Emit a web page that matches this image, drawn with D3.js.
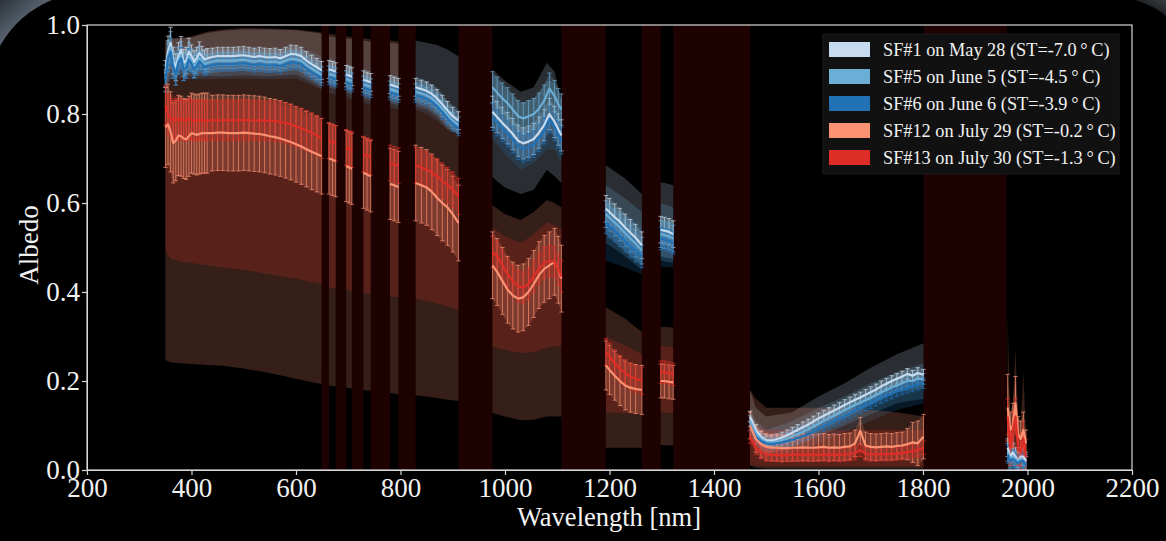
<!DOCTYPE html>
<html><head><meta charset="utf-8">
<script src="https://cdn.jsdelivr.net/npm/d3@7"></script>
<style>html,body{margin:0;padding:0;background:#000;}svg{display:block}</style>
</head><body>
<svg id="chart" width="1166" height="541"></svg>
<script>
// ---------------- DATA ----------------
const seriesNames = [
  "SF#1 on May 28 (ST=-7.0\u2009\u00b0\u2009C)",
  "SF#5 on June 5 (ST=-4.5\u2009\u00b0\u2009C)",
  "SF#6 on June 6 (ST=-3.9\u2009\u00b0\u2009C)",
  "SF#12 on July 29 (ST=-0.2\u2009\u00b0\u2009C)",
  "SF#13 on July 30 (ST=-1.3\u2009\u00b0\u2009C)"
];
const seriesColors = ["#c6dbef", "#6baed6", "#2171b5", "#fc9272", "#de2d26"];

const xTicks = [200, 400, 600, 800, 1000, 1200, 1400, 1600, 1800, 2000, 2200];
const yTicks = [0.0, 0.2, 0.4, 0.6, 0.8, 1.0];

// masked (absorption) wavelength bands, nm
const gapBands = [[649,663],[676,696],[707,729],[743,780],[796,829],[911,976],[1108,1193],[1262,1298],[1322,1469],[1801,1960]];

// wavelengths of the mean spectra / error bars (nm)
const wavelengths = [
  350,355,360,365,370,375,380,385,390,395,400,405,410,415,420,425,430,
  440,450,460,470,480,490,500,510,520,530,540,550,560,570,580,590,600,610,620,630,640,649,
  663,670,676,696,702,707,729,736,743,780,788,796,
  829,840,850,860,870,880,890,900,911,
  976,985,995,1005,1015,1025,1035,1045,1055,1065,1075,1085,1095,1102,1108,
  1193,1200,1210,1220,1230,1240,1250,1262,
  1298,1305,1314,1322,
  1469,1480,1490,1500,1510,1520,1530,1540,1550,1560,1570,1580,1590,1600,1610,1620,1630,1640,1650,1660,1670,1680,1690,1700,1710,1720,1730,1740,1750,1760,1770,1780,1790,1801,
  1962,1967,1972,1977,1982,1987,1992,1997
];

const sf1Mean = [
  0.89,0.94,0.96,0.92,0.905,0.93,0.944,0.915,0.92,0.94,0.93,0.917,0.925,0.937,0.93,0.922,0.925,
  0.928,0.93,0.93,0.93,0.93,0.931,0.932,0.93,0.928,0.93,0.928,0.927,0.928,0.925,0.93,0.935,0.934,0.93,0.92,0.912,0.905,0.898,
  0.9,0.898,0.895,0.889,0.886,0.884,0.877,0.874,0.871,0.866,0.863,0.86,
  0.86,0.856,0.852,0.845,0.835,0.822,0.808,0.795,0.785,
  0.805,0.793,0.78,0.768,0.755,0.74,0.734,0.738,0.744,0.758,0.775,0.8,0.782,0.765,0.752,
  0.587,0.58,0.568,0.558,0.545,0.533,0.522,0.505,
  0.54,0.538,0.535,0.53,
  0.12,0.09,0.075,0.067,0.066,0.069,0.073,0.078,0.084,0.09,0.096,0.102,0.109,0.116,0.122,0.128,0.134,0.14,0.146,0.152,0.158,0.163,0.169,0.175,0.181,0.188,0.194,0.2,0.205,0.21,0.216,0.212,0.218,0.214,
  0.05,0.03,0.04,0.03,0.02,0.03,0.03,0.02
];
const sf5Mean = [
  0.88,0.93,0.95,0.91,0.895,0.92,0.933,0.905,0.91,0.93,0.92,0.907,0.915,0.926,0.92,0.912,0.915,
  0.918,0.92,0.92,0.92,0.92,0.921,0.922,0.92,0.918,0.92,0.918,0.917,0.918,0.915,0.92,0.924,0.923,0.92,0.91,0.902,0.895,0.888,
  0.89,0.888,0.885,0.879,0.876,0.874,0.867,0.864,0.861,0.856,0.853,0.85,
  0.85,0.846,0.842,0.835,0.825,0.812,0.798,0.785,0.775,
  0.86,0.848,0.835,0.824,0.81,0.795,0.79,0.795,0.8,0.812,0.83,0.857,0.84,0.822,0.81,
  0.575,0.567,0.556,0.545,0.532,0.52,0.509,0.493,
  0.53,0.528,0.525,0.52,
  0.11,0.082,0.07,0.063,0.062,0.064,0.067,0.071,0.076,0.081,0.086,0.091,0.097,0.104,0.11,0.116,0.122,0.128,0.134,0.14,0.146,0.151,0.157,0.162,0.168,0.174,0.18,0.186,0.19,0.195,0.2,0.2,0.205,0.205,
  0.04,0.025,0.03,0.025,0.02,0.025,0.02,0.015
];
const sf6Mean = [
  0.875,0.925,0.94,0.905,0.89,0.915,0.925,0.9,0.905,0.922,0.913,0.9,0.908,0.918,0.912,0.905,0.907,
  0.91,0.912,0.912,0.912,0.912,0.913,0.914,0.912,0.91,0.912,0.91,0.909,0.91,0.907,0.912,0.916,0.915,0.912,0.902,0.894,0.887,0.88,
  0.882,0.88,0.877,0.871,0.868,0.866,0.859,0.856,0.853,0.848,0.845,0.842,
  0.842,0.838,0.834,0.827,0.817,0.804,0.79,0.777,0.767,
  0.793,0.781,0.768,0.756,0.743,0.728,0.722,0.726,0.732,0.746,0.763,0.788,0.77,0.753,0.74,
  0.557,0.548,0.538,0.527,0.515,0.503,0.493,0.48,
  0.52,0.518,0.515,0.51,
  0.1,0.075,0.065,0.06,0.058,0.06,0.062,0.065,0.068,0.072,0.076,0.08,0.086,0.092,0.098,0.104,0.11,0.115,0.121,0.127,0.133,0.139,0.145,0.15,0.156,0.162,0.167,0.172,0.177,0.181,0.185,0.188,0.192,0.195,
  0.035,0.02,0.025,0.02,0.015,0.02,0.02,0.01
];
const sf12Mean = [
  0.77,0.777,0.76,0.735,0.74,0.752,0.75,0.745,0.743,0.75,0.757,0.755,0.753,0.755,0.757,0.757,0.757,
  0.757,0.758,0.758,0.757,0.757,0.757,0.758,0.757,0.756,0.755,0.753,0.75,0.748,0.745,0.741,0.737,0.732,0.727,0.721,0.715,0.71,0.705,
  0.7,0.697,0.694,0.683,0.68,0.677,0.668,0.664,0.66,0.643,0.64,0.636,
  0.645,0.64,0.635,0.625,0.612,0.6,0.59,0.575,0.555,
  0.46,0.445,0.425,0.405,0.392,0.385,0.388,0.4,0.418,0.438,0.452,0.46,0.468,0.45,0.43,
  0.235,0.225,0.212,0.2,0.19,0.185,0.182,0.18,
  0.2,0.2,0.198,0.197,
  0.1,0.07,0.058,0.052,0.05,0.05,0.049,0.049,0.05,0.05,0.051,0.05,0.05,0.051,0.052,0.05,0.051,0.05,0.052,0.053,0.06,0.088,0.055,0.052,0.051,0.052,0.053,0.052,0.054,0.055,0.058,0.062,0.06,0.075,
  0.14,0.09,0.1,0.15,0.08,0.07,0.09,0.06
];
const sf13Mean = [
  0.82,0.8,0.79,0.785,0.79,0.785,0.79,0.785,0.785,0.79,0.787,0.785,0.785,0.787,0.786,0.785,0.785,
  0.786,0.786,0.786,0.786,0.786,0.786,0.787,0.786,0.786,0.785,0.785,0.785,0.784,0.782,0.78,0.777,0.772,0.768,0.763,0.758,0.752,0.745,
  0.74,0.737,0.734,0.725,0.722,0.72,0.71,0.706,0.703,0.69,0.687,0.684,
  0.685,0.68,0.675,0.668,0.66,0.65,0.64,0.63,0.615,
  0.49,0.48,0.46,0.44,0.425,0.413,0.41,0.418,0.435,0.452,0.465,0.47,0.468,0.45,0.435,
  0.265,0.255,0.24,0.228,0.218,0.21,0.205,0.2,
  0.22,0.22,0.218,0.215,
  0.075,0.05,0.04,0.035,0.034,0.034,0.033,0.034,0.034,0.035,0.034,0.034,0.035,0.034,0.035,0.034,0.035,0.034,0.035,0.036,0.038,0.045,0.036,0.035,0.035,0.036,0.035,0.036,0.037,0.038,0.04,0.042,0.045,0.05,
  0.12,0.05,0.09,0.12,0.05,0.04,0.07,0.03
];

// error bar half-widths
const sf1Err = [
  0.03,0.035,0.035,0.03,0.03,0.03,0.03,0.03,0.03,0.03,0.025,0.025,0.025,0.025,0.022,0.022,0.022,
  0.02,0.02,0.02,0.02,0.02,0.02,0.02,0.02,0.02,0.02,0.02,0.02,0.02,0.02,0.02,0.02,0.02,0.02,0.02,0.02,0.02,0.02,
  0.02,0.02,0.02,0.02,0.02,0.02,0.02,0.02,0.02,0.02,0.02,0.02,
  0.02,0.02,0.02,0.02,0.02,0.02,0.02,0.02,0.02,
  0.035,0.035,0.035,0.035,0.035,0.035,0.035,0.035,0.035,0.035,0.035,0.035,0.035,0.035,0.035,
  0.03,0.03,0.03,0.03,0.03,0.03,0.03,0.03,
  0.03,0.03,0.03,0.03,
  0.012,0.012,0.012,0.012,0.012,0.012,0.012,0.012,0.012,0.012,0.012,0.012,0.012,0.012,0.012,0.012,0.012,0.012,0.012,0.012,0.012,0.012,0.012,0.012,0.012,0.012,0.012,0.012,0.012,0.012,0.012,0.012,0.012,0.012,
  0.02,0.02,0.02,0.02,0.02,0.02,0.02,0.02
];
const sf5Err = [
  0.03,0.035,0.035,0.03,0.03,0.03,0.03,0.03,0.03,0.03,0.025,0.025,0.025,0.025,0.02,0.02,0.02,
  0.018,0.018,0.018,0.018,0.018,0.018,0.018,0.018,0.018,0.018,0.018,0.018,0.018,0.018,0.018,0.018,0.018,0.018,0.018,0.018,0.018,0.018,
  0.018,0.018,0.018,0.018,0.018,0.018,0.018,0.018,0.018,0.018,0.018,0.018,
  0.018,0.018,0.018,0.018,0.018,0.018,0.018,0.018,0.018,
  0.035,0.035,0.035,0.035,0.035,0.035,0.035,0.035,0.035,0.035,0.035,0.035,0.035,0.035,0.035,
  0.03,0.03,0.03,0.03,0.03,0.03,0.03,0.03,
  0.03,0.03,0.03,0.03,
  0.012,0.012,0.012,0.012,0.012,0.012,0.012,0.012,0.012,0.012,0.012,0.012,0.012,0.012,0.012,0.012,0.012,0.012,0.012,0.012,0.012,0.012,0.012,0.012,0.012,0.012,0.012,0.012,0.012,0.012,0.012,0.012,0.012,0.012,
  0.02,0.02,0.02,0.02,0.02,0.02,0.02,0.02
];
const sf6Err = [
  0.025,0.03,0.03,0.025,0.025,0.025,0.025,0.025,0.025,0.025,0.02,0.02,0.02,0.02,0.018,0.018,0.018,
  0.016,0.016,0.016,0.016,0.016,0.016,0.016,0.016,0.016,0.016,0.016,0.016,0.016,0.016,0.016,0.016,0.016,0.016,0.016,0.016,0.016,0.016,
  0.016,0.016,0.016,0.016,0.016,0.016,0.016,0.016,0.016,0.016,0.016,0.016,
  0.016,0.016,0.016,0.016,0.016,0.016,0.016,0.016,0.016,
  0.03,0.03,0.03,0.03,0.03,0.03,0.03,0.03,0.03,0.03,0.03,0.03,0.03,0.03,0.03,
  0.025,0.025,0.025,0.025,0.025,0.025,0.025,0.025,
  0.025,0.025,0.025,0.025,
  0.012,0.012,0.012,0.012,0.012,0.012,0.012,0.012,0.012,0.012,0.012,0.012,0.012,0.012,0.012,0.012,0.012,0.012,0.012,0.012,0.012,0.012,0.012,0.012,0.012,0.012,0.012,0.012,0.012,0.012,0.012,0.012,0.012,0.012,
  0.02,0.02,0.02,0.02,0.02,0.02,0.02,0.02
];
const sf12Err = [
  0.09,0.09,0.09,0.09,0.09,0.09,0.09,0.09,0.09,0.09,0.09,0.09,0.09,0.09,0.09,0.09,0.09,
  0.085,0.085,0.085,0.085,0.085,0.085,0.085,0.085,0.085,0.085,0.085,0.085,0.085,0.085,0.085,0.085,0.085,0.085,0.085,0.085,0.085,0.085,
  0.08,0.08,0.08,0.08,0.08,0.08,0.08,0.08,0.08,0.08,0.08,0.08,
  0.085,0.085,0.085,0.085,0.085,0.085,0.085,0.085,0.085,
  0.075,0.075,0.075,0.075,0.075,0.075,0.075,0.075,0.075,0.075,0.075,0.075,0.075,0.075,0.075,
  0.055,0.055,0.055,0.055,0.055,0.055,0.055,0.055,
  0.038,0.038,0.038,0.038,
  0.03,0.03,0.03,0.03,0.03,0.03,0.03,0.03,0.03,0.03,0.03,0.03,0.03,0.03,0.03,0.03,0.03,0.03,0.03,0.03,0.03,0.03,0.03,0.03,0.03,0.03,0.03,0.03,0.03,0.03,0.035,0.045,0.05,0.05,
  0.075,0.04,0.05,0.06,0.04,0.04,0.04,0.03
];
const sf13Err = [
  0.045,0.045,0.045,0.045,0.045,0.045,0.045,0.045,0.045,0.045,0.045,0.045,0.045,0.045,0.045,0.045,0.045,
  0.045,0.045,0.045,0.045,0.045,0.045,0.045,0.045,0.045,0.045,0.045,0.045,0.045,0.045,0.045,0.045,0.045,0.045,0.045,0.045,0.045,0.045,
  0.04,0.04,0.04,0.04,0.04,0.04,0.04,0.04,0.04,0.04,0.04,0.04,
  0.04,0.04,0.04,0.04,0.04,0.04,0.04,0.04,0.04,
  0.035,0.035,0.035,0.035,0.035,0.035,0.035,0.035,0.035,0.035,0.035,0.035,0.035,0.035,0.035,
  0.03,0.03,0.03,0.03,0.03,0.03,0.03,0.03,
  0.025,0.025,0.025,0.025,
  0.015,0.015,0.015,0.015,0.015,0.015,0.015,0.015,0.015,0.015,0.015,0.015,0.015,0.015,0.015,0.015,0.015,0.015,0.015,0.015,0.015,0.015,0.015,0.015,0.015,0.015,0.015,0.015,0.015,0.015,0.015,0.015,0.015,0.015,
  0.04,0.04,0.04,0.04,0.04,0.04,0.04,0.04
];

// wavelengths of the spread (shaded) envelopes
const bandWavelengths = [
  350,360,380,400,430,460,500,550,600,640,649,
  663,676,696,707,729,743,780,796,
  829,850,870,890,911,
  976,1000,1030,1055,1080,1095,1108,
  1193,1230,1262,
  1298,1322,
  1469,1480,1500,1550,1600,1650,1700,1750,1801,
  1962,1967,1972,1977,1982,1987,1992,1997
];
const sf1Low = [
  0.855,0.9,0.905,0.895,0.89,0.895,0.897,0.892,0.899,0.87,0.863,
  0.865,0.86,0.854,0.849,0.842,0.836,0.831,0.825,
  0.825,0.817,0.8,0.773,0.755,
  0.658,0.635,0.62,0.63,0.674,0.66,0.645,
  0.53,0.49,0.46,
  0.48,0.475,
  0.09,0.06,0.037,0.054,0.086,0.116,0.145,0.175,0.184,
  0.03,0.01,0.02,0.01,0.0,0.01,0.01,0.0
];
const sf1High = [
  0.962,0.968,0.97,0.972,0.982,0.987,0.99,0.99,0.988,0.982,0.98,
  0.975,0.972,0.97,0.968,0.965,0.962,0.96,0.958,
  0.965,0.96,0.955,0.945,0.93,
  0.9,0.875,0.85,0.86,0.915,0.895,0.83,
  0.685,0.655,0.62,
  0.647,0.64,
  0.18,0.14,0.12,0.13,0.165,0.195,0.23,0.26,0.285,
  0.08,0.05,0.07,0.06,0.04,0.05,0.05,0.04
];
const sf5Low = [
  0.86,0.88,0.89,0.885,0.885,0.885,0.887,0.885,0.889,0.865,0.858,
  0.86,0.855,0.848,0.843,0.836,0.83,0.825,0.819,
  0.818,0.81,0.793,0.765,0.755,
  0.8,0.765,0.73,0.74,0.78,0.79,0.75,
  0.51,0.48,0.45,
  0.47,0.465,
  0.08,0.055,0.035,0.05,0.075,0.1,0.125,0.15,0.16,
  0.02,0.005,0.01,0.005,0.0,0.005,0.0,0.0
];
const sf5High = [
  0.93,0.95,0.955,0.95,0.945,0.945,0.947,0.945,0.95,0.935,0.928,
  0.925,0.92,0.914,0.909,0.902,0.896,0.89,0.885,
  0.885,0.875,0.86,0.83,0.81,
  0.89,0.86,0.825,0.835,0.875,0.87,0.83,
  0.64,0.61,0.58,
  0.6,0.59,
  0.14,0.11,0.09,0.11,0.14,0.165,0.195,0.22,0.24,
  0.06,0.04,0.05,0.04,0.03,0.04,0.04,0.03
];
const sf6Low = [
  0.85,0.878,0.88,0.878,0.878,0.879,0.88,0.878,0.88,0.86,0.852,
  0.848,0.843,0.838,0.833,0.826,0.82,0.815,0.81,
  0.81,0.8,0.785,0.765,0.755,
  0.745,0.71,0.675,0.69,0.72,0.72,0.69,
  0.47,0.455,0.44,
  0.457,0.455,
  0.07,0.045,0.03,0.04,0.06,0.085,0.11,0.135,0.15,
  0.0,0.0,0.0,0.0,0.0,0.0,0.0,0.0
];
const sf6High = [
  0.92,0.945,0.945,0.94,0.935,0.937,0.94,0.937,0.942,0.925,0.918,
  0.915,0.91,0.905,0.9,0.893,0.888,0.88,0.875,
  0.875,0.865,0.85,0.82,0.8,
  0.82,0.79,0.76,0.77,0.8,0.81,0.78,
  0.6,0.575,0.545,
  0.56,0.555,
  0.12,0.09,0.075,0.09,0.115,0.14,0.165,0.19,0.21,
  0.05,0.03,0.04,0.03,0.025,0.03,0.03,0.02
];
const sf12Low = [
  0.247,0.242,0.24,0.238,0.236,0.234,0.228,0.218,0.205,0.195,0.193,
  0.19,0.188,0.185,0.183,0.18,0.178,0.173,0.17,
  0.168,0.165,0.162,0.158,0.155,
  0.128,0.12,0.112,0.113,0.12,0.12,0.12,
  0.05,0.05,0.05,
  0.056,0.055,
  0.01,0.005,0.003,0.003,0.003,0.003,0.003,0.003,0.003,
  0.0,0.0,0.0,0.0,0.0,0.0,0.0,0.0
];
const sf12High = [
  0.965,0.97,0.972,0.975,0.985,0.99,0.993,0.992,0.99,0.985,0.983,
  0.98,0.978,0.975,0.973,0.97,0.968,0.965,0.963,
  0.85,0.84,0.83,0.81,0.79,
  0.595,0.575,0.562,0.58,0.607,0.6,0.59,
  0.366,0.34,0.31,
  0.322,0.32,
  0.18,0.16,0.14,0.14,0.14,0.14,0.135,0.13,0.12,
  0.34,0.12,0.15,0.27,0.12,0.1,0.22,0.08
];
const sf13Low = [
  0.494,0.475,0.468,0.465,0.46,0.455,0.45,0.44,0.43,0.42,0.418,
  0.41,0.408,0.405,0.402,0.398,0.396,0.39,0.388,
  0.385,0.38,0.375,0.368,0.36,
  0.277,0.27,0.263,0.265,0.275,0.278,0.28,
  0.13,0.128,0.125,
  0.13,0.128,
  0.012,0.01,0.008,0.008,0.008,0.008,0.008,0.008,0.008,
  0.01,0.01,0.01,0.01,0.01,0.01,0.01,0.01
];
const sf13High = [
  0.85,0.845,0.835,0.835,0.835,0.835,0.835,0.83,0.81,0.79,0.785,
  0.78,0.775,0.765,0.76,0.75,0.745,0.725,0.72,
  0.725,0.715,0.7,0.68,0.66,
  0.545,0.525,0.51,0.53,0.557,0.55,0.54,
  0.3,0.28,0.26,
  0.28,0.275,
  0.11,0.1,0.09,0.09,0.09,0.09,0.09,0.09,0.09,
  0.2,0.08,0.12,0.2,0.08,0.07,0.1,0.05
];

// assemble series table
const series = [
  {name: seriesNames[0], color: seriesColors[0], mean: sf1Mean, err: sf1Err, low: sf1Low, high: sf1High},
  {name: seriesNames[1], color: seriesColors[1], mean: sf5Mean, err: sf5Err, low: sf5Low, high: sf5High},
  {name: seriesNames[2], color: seriesColors[2], mean: sf6Mean, err: sf6Err, low: sf6Low, high: sf6High},
  {name: seriesNames[3], color: seriesColors[3], mean: sf12Mean, err: sf12Err, low: sf12Low, high: sf12High},
  {name: seriesNames[4], color: seriesColors[4], mean: sf13Mean, err: sf13Err, low: sf13Low, high: sf13High}
];

// ---------------- DRAWING ----------------
const svg = d3.select("#chart");
const FONT = "'Liberation Serif','Times New Roman',serif";
const x = d3.scaleLinear().domain([200, 2200]).range([87, 1132]);
const y = d3.scaleLinear().domain([0, 1]).range([470, 25]);

// background
svg.append("rect").attr("width", 1166).attr("height", 541).attr("fill", "#000");
const defs = svg.append("defs");
const g1 = defs.append("linearGradient").attr("id", "corner").attr("x1", 0).attr("y1", 0).attr("x2", 1).attr("y2", 1);
g1.append("stop").attr("offset", "0%").attr("stop-color", "#2c333b");
g1.append("stop").attr("offset", "45%").attr("stop-color", "#56606b");
g1.append("stop").attr("offset", "70%").attr("stop-color", "#1a1e22");
g1.append("stop").attr("offset", "100%").attr("stop-color", "#000");
svg.append("path").attr("d", "M0,0 L52,0 Q18,14 0,46 Z").attr("fill", "url(#corner)");
const g2 = defs.append("linearGradient").attr("id", "corner2").attr("x1", 1).attr("y1", 0).attr("x2", 0).attr("y2", 1);
g2.append("stop").attr("offset", "0%").attr("stop-color", "#3a3f44");
g2.append("stop").attr("offset", "100%").attr("stop-color", "#000");
svg.append("path").attr("d", "M1166,0 L1135,0 Q1155,6 1166,16 Z").attr("fill", "url(#corner2)");

defs.append("clipPath").attr("id", "plotclip").append("rect")
  .attr("x", x(200)).attr("y", y(1)).attr("width", x(2200) - x(200)).attr("height", y(0) - y(1));

const plot = svg.append("g").attr("clip-path", "url(#plotclip)");

// masked wavelength bands
plot.selectAll("rect.gap").data(gapBands).join("rect").attr("class", "gap")
  .attr("x", d => x(d[0])).attr("width", d => x(d[1]) - x(d[0]))
  .attr("y", y(1)).attr("height", y(0) - y(1)).attr("fill", "#1e0202");

// split an index list into contiguous runs not crossing a gap band
function runs(wls) {
  const out = [];
  let cur = [0];
  for (let i = 1; i < wls.length; i++) {
    const a = wls[i - 1], b = wls[i];
    const broken = gapBands.some(g => g[0] >= a && g[1] <= b);
    if (broken) { out.push(cur); cur = [i]; } else cur.push(i);
  }
  out.push(cur);
  return out;
}
const meanRuns = runs(wavelengths);
const bandRuns = runs(bandWavelengths);

// shaded envelopes
series.forEach(s => {
  const area = d3.area()
    .x(i => x(bandWavelengths[i]))
    .y0(i => y(s.low[i]))
    .y1(i => y(s.high[i]));
  plot.append("g").selectAll("path").data(bandRuns).join("path")
    .attr("d", area).attr("fill", s.color).attr("fill-opacity", 0.21).attr("stroke", "none");
});

// error bars (dense, so their extent reads as a light hatch)
series.forEach(s => {
  const g = plot.append("g");
  const span = d3.area().x(i => x(wavelengths[i]))
    .y0(i => y(s.mean[i] - s.err[i])).y1(i => y(s.mean[i] + s.err[i]));
  g.selectAll("path.span").data(meanRuns).join("path").attr("class", "span")
    .attr("d", span).attr("fill", s.color).attr("fill-opacity", 0.22);
  const idx = d3.range(wavelengths.length);
  const eb = g.append("g").attr("stroke", s.color).attr("stroke-opacity", 0.7).attr("stroke-width", 1);
  eb.selectAll("line.v").data(idx).join("line").attr("class", "v")
    .attr("x1", i => x(wavelengths[i])).attr("x2", i => x(wavelengths[i]))
    .attr("y1", i => y(s.mean[i] - s.err[i])).attr("y2", i => y(s.mean[i] + s.err[i]));
  eb.selectAll("line.t").data(idx).join("line").attr("class", "t")
    .attr("x1", i => x(wavelengths[i]) - 2.2).attr("x2", i => x(wavelengths[i]) + 2.2)
    .attr("y1", i => y(s.mean[i] + s.err[i])).attr("y2", i => y(s.mean[i] + s.err[i]));
  eb.selectAll("line.b").data(idx).join("line").attr("class", "b")
    .attr("x1", i => x(wavelengths[i]) - 2.2).attr("x2", i => x(wavelengths[i]) + 2.2)
    .attr("y1", i => y(s.mean[i] - s.err[i])).attr("y2", i => y(s.mean[i] - s.err[i]));
});

// mean lines
series.forEach(s => {
  const line = d3.line().x(i => x(wavelengths[i])).y(i => y(s.mean[i]));
  plot.append("g").selectAll("path").data(meanRuns).join("path")
    .attr("d", line).attr("fill", "none").attr("stroke", s.color)
    .attr("stroke-width", 2.2).attr("stroke-linejoin", "round");
});

// frame
svg.append("rect").attr("x", x(200)).attr("y", y(1))
  .attr("width", x(2200) - x(200)).attr("height", y(0) - y(1))
  .attr("fill", "none").attr("stroke", "#d8d8d8").attr("stroke-width", 1.2);

// axes
const xAxis = svg.append("g").attr("transform", `translate(0,${y(0)})`)
  .call(d3.axisBottom(x).tickValues(xTicks).tickFormat(d3.format("d")).tickSize(5).tickSizeOuter(0).tickPadding(3));
const yAxis = svg.append("g").attr("transform", `translate(${x(200)},0)`)
  .call(d3.axisLeft(y).tickValues(yTicks).tickFormat(d3.format(".1f")).tickSize(5).tickSizeOuter(0).tickPadding(2));
[xAxis, yAxis].forEach(a => {
  a.select(".domain").attr("stroke", "#d8d8d8");
  a.selectAll(".tick line").attr("stroke", "#d8d8d8").attr("stroke-width", 1.2);
  a.selectAll(".tick text").attr("fill", "#f2f2f2").attr("font-family", FONT).attr("font-size", 27);
});
yAxis.selectAll(".tick text").attr("dy", "0.30em");

svg.append("text").attr("x", 609).attr("y", 526).attr("text-anchor", "middle")
  .attr("fill", "#f2f2f2").attr("font-family", FONT).attr("font-size", 26.5).text("Wavelength [nm]");
svg.append("text").attr("transform", "translate(38,245) rotate(-90)").attr("text-anchor", "middle")
  .attr("fill", "#f2f2f2").attr("font-family", FONT).attr("font-size", 27).text("Albedo");

// legend
const lg = svg.append("g").attr("transform", "translate(823,34)");
lg.append("rect").attr("width", 296).attr("height", 140).attr("fill", "#111111").attr("stroke", "#1c1c1c");
const rows = lg.selectAll("g.row").data(series).join("g").attr("class", "row")
  .attr("transform", (d, i) => `translate(0,${15 + i * 27})`);
rows.append("rect").attr("x", 6).attr("y", -7).attr("width", 41).attr("height", 15).attr("fill", d => d.color);
rows.append("text").attr("x", 60).attr("y", 6.5).attr("fill", "#f2f2f2")
  .attr("font-family", FONT).attr("font-size", 18.3).text(d => d.name);
</script>
</body></html>
